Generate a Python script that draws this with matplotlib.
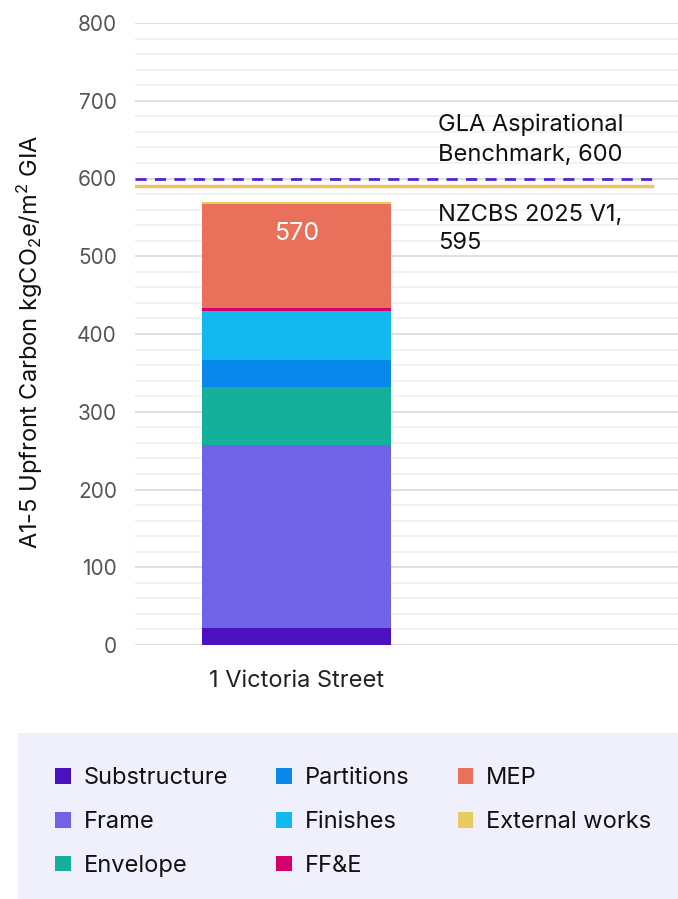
import matplotlib
matplotlib.use("Agg")
import matplotlib.pyplot as plt
from matplotlib import patches
from matplotlib.ticker import MultipleLocator

plt.rcParams["font.family"] = ["Inter", "DejaVu Sans"]
plt.rcParams["mathtext.fontset"] = "custom"
plt.rcParams["mathtext.rm"] = "Inter"
plt.rcParams["mathtext.it"] = "Inter"

# data
building = "1 Victoria Street"
components = ["Substructure", "Frame", "Envelope", "Partitions", "Finishes",
              "FF&E", "MEP", "External works"]
values = [22, 235, 75, 35, 63, 3, 134, 3]
colors = ["#4B10C0", "#7163E8", "#14B09A", "#0A87EA", "#12B8EE",
          "#D4006E", "#E9705A", "#EACB60"]
total_label = "570"

gla_value = 600
gla_label = "GLA Aspirational\nBenchmark, 600"
nzcbs_value = 590
nzcbs_label = "NZCBS 2025 V1,\n595"

W, H = 678, 899
fig = plt.figure(figsize=(W / 100, H / 100), dpi=100)
ax = fig.add_axes([135 / W, 1 - 645 / H, (W - 135) / W, (645 - 23) / H])

bottom = 0
for name, v, c in zip(components, values, colors):
    ax.bar(0, v, width=0.348, bottom=bottom, color=c, label=name, zorder=3)
    bottom += v

ax.text(0, bottom - 41, total_label, ha="center", va="center",
        color="white", fontsize=18, zorder=4)

ax.axhline(gla_value, xmin=0, xmax=0.952, color="#5A1FD0", lw=2,
           ls=(0, (4, 3)), zorder=4)
ax.axhline(nzcbs_value, xmin=0, xmax=0.952, color="#E8C665", lw=2.5, zorder=4)
ax.text(0.26, 650, gla_label, fontsize=17, color="#111111",
        va="center", linespacing=1.5)
ax.text(0.26, 535, nzcbs_label, fontsize=17, color="#111111",
        va="center", linespacing=1.4)

ax.set_xlim(-0.298, 0.702)
ax.set_ylim(0, 800)
ax.yaxis.set_major_locator(MultipleLocator(100))
ax.yaxis.set_minor_locator(MultipleLocator(20))
ax.grid(which="major", axis="y", color="#DDDDDD", lw=1.3, zorder=0)
ax.grid(which="minor", axis="y", color="#F1F1F1", lw=1.3, zorder=0)
ax.tick_params(axis="y", which="both", length=0, pad=13, labelsize=15,
               labelcolor="#555555")
ax.set_xticks([0])
ax.set_xticklabels([building])
ax.tick_params(axis="x", length=0, pad=18, labelsize=17, labelcolor="#222222")
for s in ax.spines.values():
    s.set_visible(False)

ax.set_ylabel("A1-5 Upfront Carbon kgCO$_2$e/m$^2$ GIA", fontsize=17,
              color="#111111")
ax.yaxis.set_label_coords(-0.166, 0.487)

# legend panel
fig.patches.append(patches.Rectangle((18 / W, 0), 1 - 18 / W, (899 - 733) / H,
                                     transform=fig.transFigure,
                                     facecolor="#F0F0FC", edgecolor="none",
                                     zorder=0))
handles = [patches.Patch(facecolor=c, label=n) for n, c in zip(components, colors)]
fig.legend(handles=handles, ncol=3, frameon=False, fontsize=17,
           loc="upper left", bbox_to_anchor=(34 / W, 1 - 746 / H),
           handlelength=0.65, handleheight=0.65, handletextpad=0.55,
           columnspacing=2.05, labelspacing=0.92, labelcolor="#111111")

fig.savefig("out.png", dpi=100)
